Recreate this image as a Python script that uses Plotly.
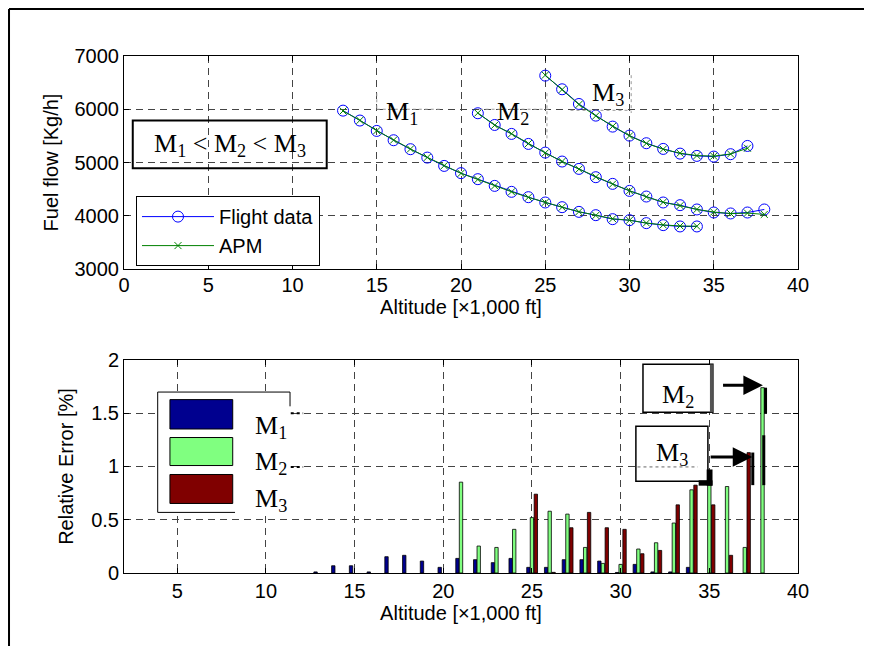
import plotly.graph_objects as go

# ---------------- data ----------------
alt_m1 = list(range(13, 35))
ff_m1_flight = [5974, 5788, 5593, 5418, 5250, 5092, 4936, 4800, 4687, 4561, 4449,
                4349, 4249, 4161, 4073, 4011, 3936, 3917, 3861, 3824, 3799, 3799]
ff_m1_apm = [5968, 5792, 5598, 5421, 5254, 5096, 4940, 4796, 4682, 4562, 4450,
             4346, 4251, 4160, 4076, 4006, 3944, 3915, 3864, 3828, 3808, 3803]

alt_m2 = list(range(21, 39))
ff_m2_flight = [5925, 5705, 5537, 5349, 5186, 5018, 4880, 4724, 4599, 4467, 4361,
                4249, 4199, 4118, 4061, 4043, 4061, 4118]
ff_m2_apm = [5930, 5700, 5540, 5355, 5180, 5020, 4875, 4730, 4595, 4470, 4355,
             4255, 4190, 4120, 4070, 4040, 4050, 4025]

alt_m3 = list(range(25, 38))
ff_m3_flight = [6631, 6375, 6099, 5880, 5674, 5505, 5362, 5255, 5167, 5124, 5111,
                5156, 5311]
ff_m3_apm = [6640, 6370, 6090, 5875, 5680, 5500, 5360, 5250, 5175, 5130, 5120,
             5160, 5268]

err_m1 = [0.01, 0.068, 0.068, 0.01, 0.153, 0.166, 0.112, 0.053, 0.137, 0.125, 0.097,
          0.137, 0.053, 0.053, 0.125, 0.125, 0.112, 0.005, 0.081, 0.01, 0.01, 0.053]
err_m2 = [0.853, 0.253, 0.24, 0.41, 0.52, 0.58, 0.553, 0.24, 0.09, 0.081, 0.225,
          0.284, 0.469, 0.781, 0.88, 0.812, 0.24, 1.74]
err_m3 = [0.74, 0.006, 0.425, 0.569, 0.425, 0.41, 0.181, 0.212, 0.64, 0.825, 0.64,
          0.166, 1.13]

top_xticks = [0, 5, 10, 15, 20, 25, 30, 35, 40]
top_yticks = [3000, 4000, 5000, 6000, 7000]
bot_xticks = [5, 10, 15, 20, 25, 30, 35, 40]
bot_yticks = [0, 0.5, 1, 1.5, 2]
bot_ytext = ["0", "0.5", "1", "1.5", "2"]

# ---------------- styles ----------------
SANS = "Liberation Sans, Arial, Helvetica, sans-serif"
SERIF = "Liberation Serif, Times New Roman, serif"
FS = 20
FSERIF = 26
BLUE = "#0000FF"
GREEN = "#008000"
NAVY = "#00008F"
LGREEN = "#80FF80"
DRED = "#800000"

fig = go.Figure()

series = [
    (alt_m1, ff_m1_flight, ff_m1_apm, True),
    (alt_m2, ff_m2_flight, ff_m2_apm, False),
    (alt_m3, ff_m3_flight, ff_m3_apm, False),
]
for alt, fl, apm, show in series:
    fig.add_trace(go.Scatter(
        x=alt, y=fl, mode="lines+markers", name="Flight data", legendgroup="fd",
        showlegend=show, line=dict(color=BLUE, width=1),
        marker=dict(symbol="circle-open", size=11, color=BLUE, line=dict(width=1)),
        xaxis="x", yaxis="y"))
for alt, fl, apm, show in series:
    fig.add_trace(go.Scatter(
        x=alt, y=apm, mode="lines+markers", name="APM", legendgroup="apm",
        showlegend=show, line=dict(color=GREEN, width=1),
        marker=dict(symbol="x-thin-open", size=7, color=GREEN, line=dict(width=1, color=GREEN)),
        xaxis="x", yaxis="y"))

bar_w = 0.19
for alt, err, col, off in [(alt_m1, err_m1, NAVY, -0.2),
                           (alt_m2, err_m2, LGREEN, 0.0),
                           (alt_m3, err_m3, DRED, 0.22)]:
    fig.add_trace(go.Bar(
        x=alt, y=err, width=bar_w, offset=off - bar_w / 2,
        marker=dict(color=col, line=dict(color="black", width=0.8)),
        showlegend=False, xaxis="x2", yaxis="y2"))

axis_common = dict(
    showline=True, linecolor="black", linewidth=1, mirror="ticks",
    ticks="inside", ticklen=5, tickcolor="black",
    showgrid=True, gridcolor="#444444", gridwidth=1, griddash="7px,5px",
    zeroline=False,
    tickfont=dict(family=SANS, size=FS, color="black"),
)
title_font = dict(family=SANS, size=FS, color="black")

# the page adds an 8px body margin, so the figure is 864x638
fig.update_layout(
    width=864, height=638,
    paper_bgcolor="white", plot_bgcolor="white",
    margin=dict(l=116, r=74, t=48, b=73),
    barmode="overlay",
    xaxis=dict(axis_common, domain=[0, 1], range=[0, 40], tickvals=top_xticks,
               anchor="y", ticklabelstandoff=-2,
               title=dict(text="Altitude [×1,000 ft]", standoff=0, font=title_font)),
    yaxis=dict(axis_common, domain=[0.588, 1], range=[3000, 7000], tickvals=top_yticks,
               anchor="x",
               title=dict(text="Fuel flow [Kg/h]", standoff=10, font=title_font)),
    xaxis2=dict(axis_common, domain=[0, 1], range=[2, 40], tickvals=bot_xticks,
                anchor="y2",
                title=dict(text="Altitude [×1,000 ft]", standoff=2, font=title_font)),
    yaxis2=dict(axis_common, domain=[0, 0.412], range=[0, 2], tickvals=bot_yticks,
                ticktext=bot_ytext, anchor="x2",
                title=dict(text="Relative Error [%]", standoff=12, font=title_font)),
    legend=dict(x=0.0178, y=0.729, xanchor="left", yanchor="top",
                bgcolor="white", bordercolor="black", borderwidth=1,
                font=dict(family=SANS, size=FS, color="black"),
                itemwidth=72, tracegroupgap=0),
)

shapes = []
annotations = []

# outer frame (top and left edges)
shapes.append(dict(type="line", xref="paper", yref="paper", x0=-0.1706, x1=1.2,
                   y0=1.0909, y1=1.0909, line=dict(color="black", width=2)))
shapes.append(dict(type="line", xref="paper", yref="paper", x0=-0.1706, x1=-0.1706,
                   y0=1.0909, y1=-0.2, line=dict(color="black", width=2)))

# ---- top plot decorations ----
shapes.append(dict(type="rect", xref="x", yref="y", x0=0.52, x1=12.03, y0=4894, y1=5787,
                   line=dict(color="black", width=2)))
annotations.append(dict(xref="x", yref="y", x=6.27, y=5330, showarrow=False,
                        text="M<sub>1</sub> &lt; M<sub>2</sub> &lt; M<sub>3</sub>",
                        font=dict(family=SERIF, size=FSERIF, color="black")))
dot = dict(color="#999999", width=1, dash="dot")
for (x0, y0, x1, y1) in [(15, 6300, 15, 6000), (15, 6000, 18.8, 6000),
                         (21.1, 6000, 25.2, 6000), (25.1, 6300, 25.1, 5425),
                         (26.5, 5980, 30.1, 5980), (30.1, 6640, 30.1, 5930)]:
    shapes.append(dict(type="line", xref="x", yref="y", x0=x0, y0=y0, x1=x1, y1=y1, line=dot))
for xx, yy, lab in [(16.48, 5930, "M<sub>1</sub>"), (23.1, 5930, "M<sub>2</sub>"),
                    (28.7, 6290, "M<sub>3</sub>")]:
    annotations.append(dict(xref="x", yref="y", x=xx, y=yy, showarrow=False, text=lab,
                            font=dict(family=SERIF, size=FSERIF, color="black")))

# ---- bottom plot legend (drawn) ----
shapes.append(dict(type="rect", xref="x2", yref="y2", x0=3.9, x1=11.36, y0=0.569, y1=1.699,
                   fillcolor="white", line=dict(width=0), layer="above"))
blk = dict(color="black", width=1)
for (x0, y0, x1, y1) in [(3.9, 1.699, 3.9, 0.569), (3.9, 1.699, 11.36, 1.699),
                         (11.36, 1.699, 11.36, 1.565), (3.9, 0.569, 8.26, 0.569)]:
    shapes.append(dict(type="line", xref="x2", yref="y2", x0=x0, y0=y0, x1=x1, y1=y1, line=blk))
for yy in [1.5, 0.996]:
    shapes.append(dict(type="line", xref="x2", yref="y2", x0=11.4, x1=12.1, y0=yy, y1=yy,
                       line=dict(color="black", width=2, dash="dot")))
for col, y0, y1, lab, ylab in [(NAVY, 1.352, 1.628, "M<sub>1</sub>", 1.37),
                               (LGREEN, 1.009, 1.272, "M<sub>2</sub>", 1.03),
                               (DRED, 0.653, 0.925, "M<sub>3</sub>", 0.69)]:
    shapes.append(dict(type="rect", xref="x2", yref="y2", x0=4.59, x1=8.13, y0=y0, y1=y1,
                       fillcolor=col, line=dict(color="black", width=1)))
    annotations.append(dict(xref="x2", yref="y2", x=9.3, y=ylab, xanchor="left",
                            showarrow=False, text=lab,
                            font=dict(family=SERIF, size=FSERIF, color="black")))

# ---- bottom plot callouts ----
shapes.append(dict(type="rect", xref="x2", yref="y2", x0=31.26, x1=35.2, y0=1.509, y1=1.959,
                   fillcolor="white", line=dict(color="black", width=1.5)))
shapes.append(dict(type="line", xref="x2", yref="y2", x0=35.12, x1=35.12, y0=1.509, y1=1.959,
                   line=dict(color="#555555", width=3)))
annotations.append(dict(xref="x2", yref="y2", x=33.23, y=1.66, showarrow=False,
                        text="M<sub>2</sub>", font=dict(family=SERIF, size=FSERIF, color="black")))
shapes.append(dict(type="rect", xref="x2", yref="y2", x0=30.86, x1=34.92, y0=0.862, y1=1.378,
                   fillcolor="white", line=dict(color="black", width=1.5)))
shapes.append(dict(type="line", xref="x2", yref="y2", x0=30.95, x1=34.35, y0=0.996, y1=0.996,
                   line=dict(color="#666666", width=1, dash="dot")))
annotations.append(dict(xref="x2", yref="y2", x=32.87, y=1.12, showarrow=False,
                        text="M<sub>3</sub>", font=dict(family=SERIF, size=FSERIF, color="black")))
shapes.append(dict(type="rect", xref="x2", yref="y2", x0=34.85, x1=35.18, y0=0.82, y1=0.972,
                   fillcolor="black", line=dict(width=0)))
shapes.append(dict(type="rect", xref="x2", yref="y2", x0=34.4, x1=35.18, y0=0.82, y1=0.87,
                   fillcolor="black", line=dict(width=0)))
for (xx, y0, y1) in [(38.17, 1.497, 1.74), (38.07, 0.825, 1.293), (37.45, 0.825, 1.131)]:
    shapes.append(dict(type="line", xref="x2", yref="y2", x0=xx, x1=xx, y0=y0, y1=y1,
                       line=dict(color="black", width=3)))
for (x_tip, x_tail, yy) in [(38.02, 35.69, 1.762), (37.42, 34.99, 1.09)]:
    annotations.append(dict(xref="x2", yref="y2", axref="x2", ayref="y2",
                            x=x_tip, y=yy, ax=x_tail, ay=yy, text="", showarrow=True,
                            arrowhead=2, arrowsize=1.3, arrowwidth=3, arrowcolor="black",
                            standoff=0, startstandoff=0))

fig.update_layout(shapes=shapes, annotations=annotations)

fig.write_html("out.html")
